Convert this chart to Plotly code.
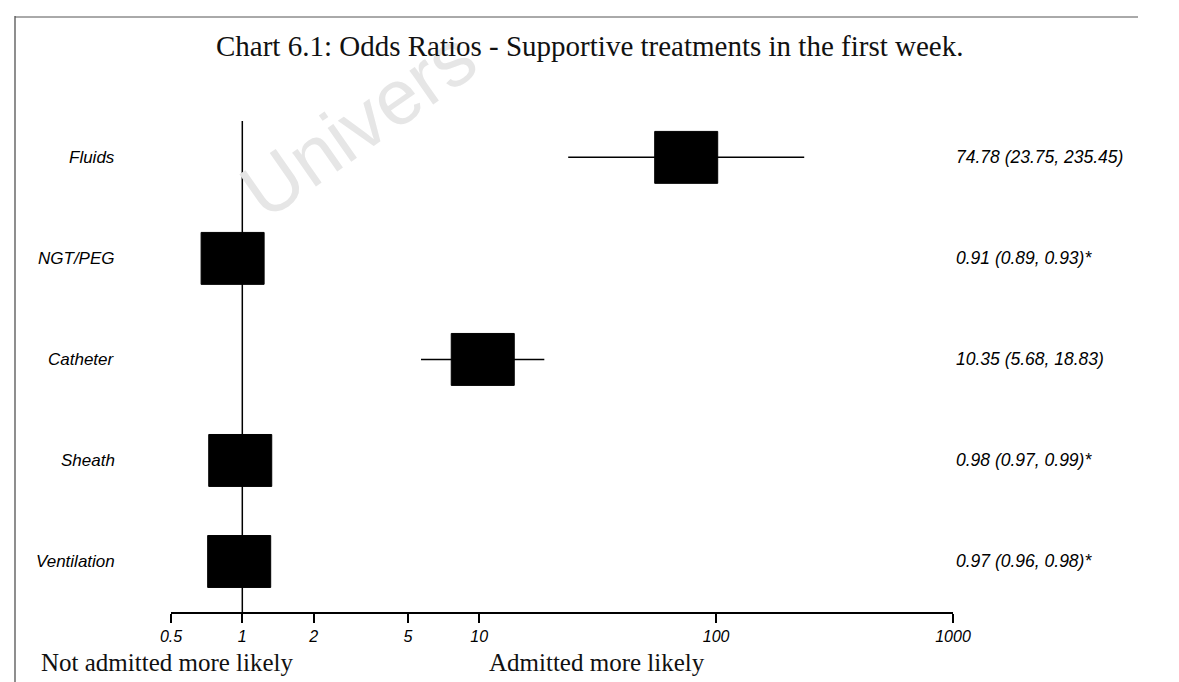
import numpy as np
import plotly.graph_objects as go

# ---- data ----
treatments = ["Fluids", "NGT/PEG", "Catheter", "Sheath", "Ventilation"]
odds_ratio = [74.78, 0.91, 10.35, 0.98, 0.97]
ci_low = [23.75, 0.89, 5.68, 0.97, 0.96]
ci_high = [235.45, 0.93, 18.83, 0.99, 0.98]
ci_labels = ["74.78 (23.75, 235.45)", "0.91 (0.89, 0.93)*", "10.35 (5.68, 18.83)",
             "0.98 (0.97, 0.99)*", "0.97 (0.96, 0.98)*"]
tick_vals = [0.5, 1, 2, 5, 10, 100, 1000]
tick_text = ["0.5", "1", "2", "5", "10", "100", "1000"]

# ---- geometry / style ----
W, H = 1179, 682
ML, MR, MT, MB = 163, 234, 113, 78
rows = [len(treatments) - i for i in range(len(treatments))]
y_range = [0.5, 5.36]
box_half_w = 10 ** 0.133   # multiplicative half width on log axis
box_half_h = 0.257
sans = "Liberation Sans, Arial, sans-serif"
serif = "Liberation Serif, Times New Roman, serif"

fig = go.Figure()

# reference line at OR = 1
fig.add_trace(go.Scatter(x=[1, 1], y=y_range, mode="lines",
                         line=dict(color="black", width=1.5),
                         hoverinfo="skip", showlegend=False))

for r, orv, lo, hi in zip(rows, odds_ratio, ci_low, ci_high):
    # confidence interval whisker
    fig.add_trace(go.Scatter(x=[lo, hi], y=[r, r], mode="lines",
                             line=dict(color="black", width=1.5),
                             hoverinfo="skip", showlegend=False))
    # box for point estimate
    x0, x1 = orv / box_half_w, orv * box_half_w
    y0, y1 = r - box_half_h, r + box_half_h
    fig.add_trace(go.Scatter(x=[x0, x1, x1, x0, x0], y=[y0, y0, y1, y1, y0],
                             mode="lines", fill="toself", fillcolor="black",
                             line=dict(color="black", width=1),
                             hoverinfo="skip", showlegend=False))

pw = W - ML - MR
ph = H - MT - MB


def px_x(p):
    return (p - ML) / pw


def px_y(p):
    return (H - MB - p) / ph


annotations = []
# faint watermark (drawn first so it sits behind the other texts)
annotations.append(dict(text="Univers", xref="paper", yref="paper",
                        x=px_x(350), y=px_y(116), xanchor="center", yanchor="middle",
                        textangle=-35, showarrow=False,
                        font=dict(family=sans, size=78, color="#e6e6e6")))

for r, name, lab in zip(rows, treatments, ci_labels):
    annotations.append(dict(text=f"<i>{name}</i>", xref="paper", yref="y",
                            x=px_x(109), y=r, xanchor="right", yanchor="middle",
                            showarrow=False, font=dict(family=sans, size=17, color="black")))
    annotations.append(dict(text=f"<i>{lab}</i>", xref="paper", yref="y",
                            x=px_x(946), y=r, xanchor="left", yanchor="middle",
                            showarrow=False, font=dict(family=sans, size=17.5, color="black")))

annotations.append(dict(text="Chart 6.1: Odds Ratios - Supportive treatments in the first week.",
                        xref="paper", yref="paper", x=px_x(581), y=px_y(38),
                        xanchor="center", yanchor="middle", showarrow=False,
                        font=dict(family=serif, size=29, color="#111")))
annotations.append(dict(text="Not admitted more likely", xref="paper", yref="paper",
                        x=px_x(31), y=px_y(654), xanchor="left", yanchor="middle",
                        showarrow=False, font=dict(family=serif, size=25, color="#111")))
annotations.append(dict(text="Admitted more likely", xref="paper", yref="paper",
                        x=px_x(479), y=px_y(654), xanchor="left", yanchor="middle",
                        showarrow=False, font=dict(family=serif, size=25, color="#111")))

shapes = [
    dict(type="line", xref="paper", yref="paper", x0=px_x(7), x1=px_x(7),
         y0=px_y(8), y1=px_y(690), line=dict(color="#444", width=1.2)),
    dict(type="line", xref="paper", yref="paper", x0=px_x(7), x1=px_x(1130),
         y0=px_y(9), y1=px_y(9), line=dict(color="#555", width=1)),
]

fig.update_layout(
    width=W, height=H,
    margin=dict(l=ML, r=MR, t=MT, b=MB),
    paper_bgcolor="white", plot_bgcolor="white",
    showlegend=False,
    annotations=annotations,
    shapes=shapes,
    xaxis=dict(type="log", range=[np.log10(0.5), 3], tickvals=tick_vals,
               ticktext=[f"<i>{t}</i>" for t in tick_text],
               tickfont=dict(family=sans, size=16, color="black"),
               ticks="outside", ticklen=9, tickwidth=1.5, tickcolor="black",
               showline=True, linecolor="black", linewidth=1.5,
               showgrid=False, zeroline=False, fixedrange=True),
    yaxis=dict(range=y_range, visible=False, showgrid=False, zeroline=False,
               fixedrange=True),
)

fig.write_html("out.html")
